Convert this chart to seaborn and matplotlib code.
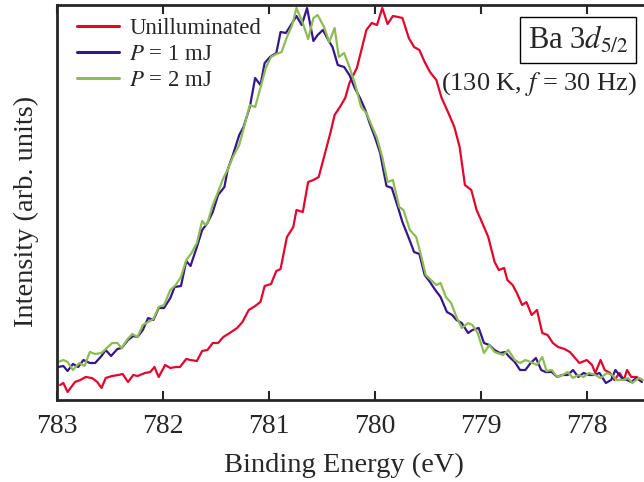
import numpy as np
import pandas as pd
import matplotlib
matplotlib.use("Agg")
import matplotlib.pyplot as plt
import seaborn as sns

# Ba 3d5/2 spectra (intensity in arb. units)
e_dark = [782.97, 782.94, 782.90, 782.83, 782.78, 782.73, 782.67, 782.62, 782.58, 782.54,
          782.48, 782.42, 782.38, 782.33, 782.28, 782.24, 782.17, 782.12, 782.08, 782.04,
          781.98, 781.93, 781.88, 781.84, 781.78, 781.74, 781.68, 781.63, 781.58, 781.53,
          781.48, 781.43, 781.37, 781.30, 781.25, 781.19, 781.13, 781.08, 781.04, 780.98,
          780.93, 780.89, 780.83, 780.77, 780.74, 780.68, 780.63, 780.58, 780.53, 780.47,
          780.42, 780.38, 780.33, 780.28, 780.24, 780.17, 780.12, 780.08, 780.03, 779.98,
          779.93, 779.88, 779.83, 779.78, 779.74, 779.68, 779.63, 779.58, 779.53, 779.48,
          779.42, 779.37, 779.31, 779.25, 779.20, 779.15, 779.09, 779.04, 778.99, 778.93,
          778.87, 778.83, 778.78, 778.75, 778.70, 778.66, 778.61, 778.57, 778.52, 778.47,
          778.42, 778.37, 778.32, 778.27, 778.21, 778.16, 778.11, 778.07, 778.00, 777.95,
          777.92, 777.87, 777.83, 777.78, 777.74, 777.69, 777.65, 777.62, 777.58, 777.53,
          777.48]
i_dark = [15, 17, 8, 18, 20, 23, 22, 18, 12, 22,
          24, 25, 26, 18, 25, 24, 27, 28, 33, 23,
          35, 32, 33, 33, 41, 40, 39, 49, 50, 57,
          57, 63, 67, 72, 78, 90, 94, 98, 114, 116,
          129, 131, 163, 173, 190, 188, 218, 220, 223, 247,
          267, 285, 293, 302, 317, 332, 353, 370, 377, 375,
          392, 376, 384, 383, 382, 362, 353, 350, 338, 328,
          320, 302, 288, 273, 253, 215, 210, 190, 178, 163,
          138, 130, 132, 120, 115, 107, 95, 98, 85, 90,
          67, 65, 57, 53, 51, 48, 42, 37, 40, 35,
          27, 40, 30, 27, 20, 27, 20, 30, 23, 23,
          20]

e_1mj = [782.99, 782.94, 782.90, 782.85, 782.80, 782.75, 782.69, 782.64, 782.58, 782.54,
         782.49, 782.43, 782.39, 782.33, 782.28, 782.24, 782.19, 782.14, 782.09, 782.04,
         781.99, 781.93, 781.89, 781.83, 781.78, 781.74, 781.68, 781.63, 781.58, 781.53,
         781.48, 781.42, 781.39, 781.34, 781.28, 781.24, 781.18, 781.13, 781.08, 781.04,
         780.99, 780.93, 780.89, 780.84, 780.78, 780.74, 780.69, 780.64, 780.58, 780.54,
         780.49, 780.44, 780.40, 780.35, 780.29, 780.24, 780.19, 780.14, 780.09, 780.05,
         780.00, 779.95, 779.92, 779.89, 779.84, 779.78, 779.74, 779.68, 779.63, 779.58,
         779.53, 779.48, 779.43, 779.38, 779.32, 779.27, 779.23, 779.18, 779.12, 779.08,
         779.02, 778.97, 778.92, 778.87, 778.82, 778.77, 778.73, 778.68, 778.63, 778.58,
         778.53, 778.48, 778.43, 778.39, 778.33, 778.28, 778.23, 778.18, 778.13, 778.08,
         778.03, 777.98, 777.93, 777.88, 777.82, 777.77, 777.73, 777.67, 777.62, 777.58,
         777.53, 777.48]
i_1mj = [33, 34, 29, 36, 33, 40, 37, 37, 44, 50,
         44, 51, 52, 60, 64, 63, 70, 82, 80, 92,
         92, 102, 113, 114, 139, 134, 153, 170, 177, 188,
         205, 213, 230, 245, 265, 273, 293, 322, 315, 337,
         343, 347, 368, 367, 377, 384, 375, 392, 359, 365,
         370, 360, 353, 335, 333, 325, 312, 302, 290, 277,
         263, 247, 230, 214, 212, 192, 178, 162, 148, 146,
         125, 118, 110, 103, 88, 85, 80, 77, 67, 70,
         72, 57, 55, 50, 47, 48, 43, 38, 30, 30,
         37, 42, 30, 28, 28, 23, 25, 25, 30, 23,
         27, 25, 25, 27, 17, 20, 30, 22, 20, 18,
         22, 18]

e_2mj = [782.99, 782.94, 782.90, 782.85, 782.79, 782.74, 782.69, 782.64, 782.58, 782.53,
         782.48, 782.43, 782.39, 782.34, 782.29, 782.24, 782.19, 782.14, 782.09, 782.04,
         781.99, 781.93, 781.88, 781.83, 781.78, 781.73, 781.68, 781.63, 781.60, 781.58,
         781.53, 781.48, 781.43, 781.39, 781.34, 781.28, 781.23, 781.18, 781.13, 781.08,
         781.03, 780.98, 780.93, 780.88, 780.83, 780.78, 780.74, 780.68, 780.63, 780.58,
         780.54, 780.48, 780.43, 780.38, 780.34, 780.29, 780.24, 780.19, 780.13, 780.08,
         780.04, 779.98, 779.93, 779.88, 779.83, 779.77, 779.73, 779.67, 779.61, 779.57,
         779.52, 779.47, 779.42, 779.38, 779.33, 779.28, 779.23, 779.18, 779.12, 779.08,
         779.03, 778.97, 778.92, 778.87, 778.79, 778.74, 778.68, 778.63, 778.58, 778.53,
         778.47, 778.42, 778.38, 778.33, 778.28, 778.23, 778.18, 778.13, 778.08, 778.03,
         777.98, 777.92, 777.87, 777.81, 777.76, 777.72, 777.66, 777.61, 777.57, 777.51,
         777.47]
i_2mj = [38, 40, 38, 30, 37, 34, 48, 46, 47, 52,
         57, 57, 52, 60, 66, 63, 75, 78, 81, 93,
         95, 110, 115, 123, 140, 147, 157, 179, 175, 177,
         195, 208, 222, 230, 243, 255, 275, 295, 293, 312,
         332, 343, 346, 348, 363, 375, 392, 377, 361, 382,
         385, 373, 358, 372, 343, 347, 333, 317, 293, 287,
         277, 262, 243, 218, 220, 193, 190, 170, 163, 147,
         125, 120, 115, 117, 103, 97, 83, 72, 77, 75,
         67, 47, 55, 48, 45, 50, 40, 37, 40, 38,
         35, 43, 29, 30, 23, 25, 28, 22, 25, 23,
         27, 25, 22, 27, 25, 20, 20, 22, 17, 22,
         20]

labels = ["Unilluminated", r"$P$ = 1 mJ", r"$P$ = 2 mJ"]
colors = ["#E2062C", "#34178A", "#8DBB55"]

df = pd.concat([
    pd.DataFrame({"energy": e_dark, "intensity": i_dark, "series": labels[0]}),
    pd.DataFrame({"energy": e_1mj, "intensity": i_1mj, "series": labels[1]}),
    pd.DataFrame({"energy": e_2mj, "intensity": i_2mj, "series": labels[2]}),
])

sns.set_style("ticks")
plt.rcParams["font.family"] = ["Liberation Serif", "DejaVu Serif"]
plt.rcParams["mathtext.fontset"] = "stix"

fig = plt.figure(figsize=(6.44, 4.82), dpi=100)
ax = fig.add_axes([57 / 644, 82 / 482, 587 / 644, 395 / 482])

sns.lineplot(data=df, x="energy", y="intensity", hue="series", hue_order=labels,
             palette=colors, estimator=None, linewidth=1.6, ax=ax)

ax.set_xlim(783, 777.46)
ax.set_ylim(0, 395)
ax.set_xticks([783, 782, 781, 780, 779, 778])
ax.set_yticks([])
ax.tick_params(axis="x", direction="in", top=True, length=6.5, width=1.5,
               labelsize=20, pad=10)
for side in ["left", "bottom", "top"]:
    ax.spines[side].set_linewidth(2)
ax.spines["right"].set_visible(False)

ax.set_xlabel("Binding Energy (eV)", fontsize=20.5)
ax.xaxis.set_label_coords(0.488, -0.133)
ax.set_ylabel("Intensity (arb. units)", fontsize=20.5)
ax.yaxis.set_label_coords(-0.0315, 0.478)

leg = ax.legend(loc="upper left", frameon=False, fontsize=16.5, handlelength=1.85,
                borderaxespad=0.25, labelspacing=0.22, handletextpad=0.45,
                bbox_to_anchor=(0.008, 1.005))
for line in leg.get_lines():
    line.set_linewidth(2.2)

ax.text(0.8876, 0.911, r"Ba 3$d_{5/2}$", transform=ax.transAxes, fontsize=22,
        ha="center", va="center",
        bbox=dict(boxstyle="square,pad=0.24", fc="white", ec="black", lw=1))
ax.text(0.988, 0.80, r"(130 K, $f$ = 30 Hz)", transform=ax.transAxes, fontsize=19,
        ha="right", va="center")

fig.savefig("out.png", dpi=100)
